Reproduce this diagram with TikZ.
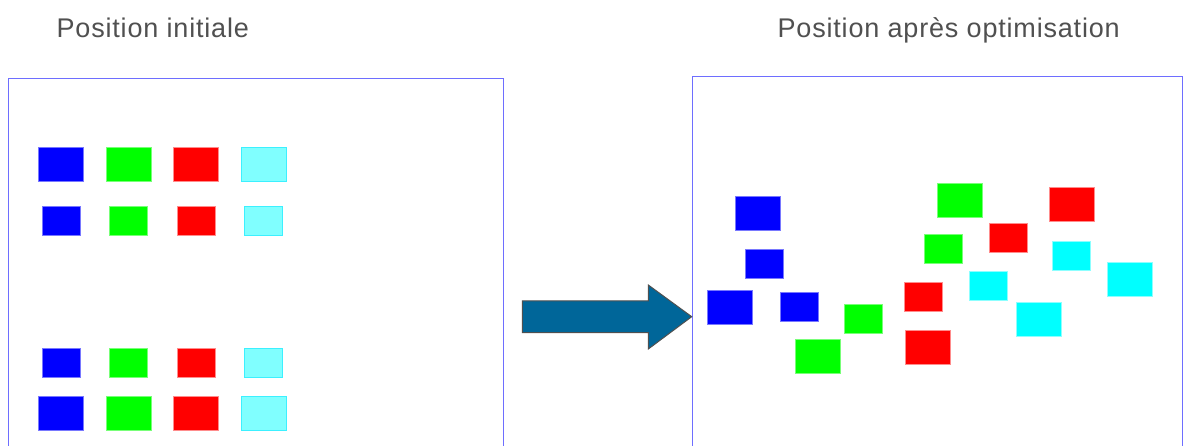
\documentclass[tikz,border=0pt]{standalone}
\usepackage{fontspec}
\setmainfont{Liberation Sans}[LetterSpace=3]
\definecolor{framec}{RGB}{110,110,255}
\definecolor{arrowc}{RGB}{0,102,153}
\definecolor{arrowe}{RGB}{80,80,80}
\definecolor{titlec}{RGB}{80,80,80}
\definecolor{lcyan}{RGB}{128,255,255}
\tikzset{
  box/.style={rectangle, inner sep=0pt, outer sep=0pt, line width=0.6pt},
  big/.style={box, minimum width=45pt, minimum height=34pt},
  small/.style={box, minimum width=38pt, minimum height=29pt},
  bl/.style={fill={rgb,255:red,0;green,0;blue,255}, draw={rgb,255:red,120;green,120;blue,255}},
  gr/.style={fill={rgb,255:red,0;green,255;blue,0}, draw={rgb,255:red,120;green,255;blue,120}},
  rd/.style={fill={rgb,255:red,255;green,0;blue,0}, draw={rgb,255:red,255;green,140;blue,140}},
  cy/.style={fill={rgb,255:red,0;green,255;blue,255}, draw={rgb,255:red,140;green,255;blue,255}},
  lc/.style={fill=lcyan, draw={rgb,255:red,60;green,240;blue,255}},
  frame/.style={draw=framec, line width=1pt},
  title/.style={text=titlec, font=\fontsize{27}{31}\selectfont, anchor=base, inner sep=0pt}
}
\begin{document}
\begin{tikzpicture}[x=1pt,y=-1pt]
\useasboundingbox (0,0) rectangle (1189,446);
\clip (0,0) rectangle (1189,446);
\fill[white] (0,0) rectangle (1189,446);
% titles
\node[title] (t1) at (152.8,37.2) {Position initiale};
\node[title] (t2) at (948.7,37.2) {Position après optimisation};
% frames
\draw[frame] (8.3,78.3) rectangle (503.3,470);
\draw[frame] (692.3,76.3) rectangle (1182.3,470);
% left panel
\node[big,bl] (a1) at (61,164) {};
\node[big,gr] (a2) at (128.3,164) {};
\node[big,rd] (a3) at (195.8,164) {};
\node[big,lc] (a4) at (263.7,164) {};
\node[small,bl] (b1) at (61,220.5) {};
\node[small,gr] (b2) at (128.7,220.5) {};
\node[small,rd] (b3) at (195.8,220.5) {};
\node[small,lc] (b4) at (263.7,220.5) {};
\node[small,bl] (c1) at (61,362.8) {};
\node[small,gr] (c2) at (128.7,362.8) {};
\node[small,rd] (c3) at (195.8,362.8) {};
\node[small,lc] (c4) at (263.7,362.8) {};
\node[big,bl] (d1) at (61,413.5) {};
\node[big,gr] (d2) at (128.3,413.5) {};
\node[big,rd] (d3) at (195.8,413.5) {};
\node[big,lc] (d4) at (263.7,413.5) {};
% arrow
\filldraw[fill=arrowc, draw=arrowe, line width=1pt, line join=miter]
  (522.3,301) -- (648.3,301) -- (648.3,285) -- (691.7,316.7) -- (648.3,349)
  -- (648.3,332.7) -- (522.3,332.7) -- cycle;
% right panel
\node[big,bl] (r1) at (758.2,213) {};
\node[small,bl] (r2) at (764.2,263.7) {};
\node[big,bl] (r3) at (730,307) {};
\node[small,bl] (r4) at (798.8,306.8) {};
\node[small,gr] (g1) at (863.5,319.3) {};
\node[big,gr] (g2) at (817.8,356.7) {};
\node[big,gr] (g3) at (960.2,200.3) {};
\node[small,gr] (g4) at (943.2,249.3) {};
\node[small,rd] (e1) at (923.5,297.3) {};
\node[big,rd] (e2) at (927.3,347.7) {};
\node[small,rd] (e3) at (1008.5,238) {};
\node[big,rd] (e4) at (1071.7,204.3) {};
\node[small,cy] (f1) at (988.7,285.7) {};
\node[small,cy] (f2) at (1070.8,256) {};
\node[big,cy] (f3) at (1039,319.7) {};
\node[big,cy] (f4) at (1130,279.5) {};
\end{tikzpicture}
\end{document}
